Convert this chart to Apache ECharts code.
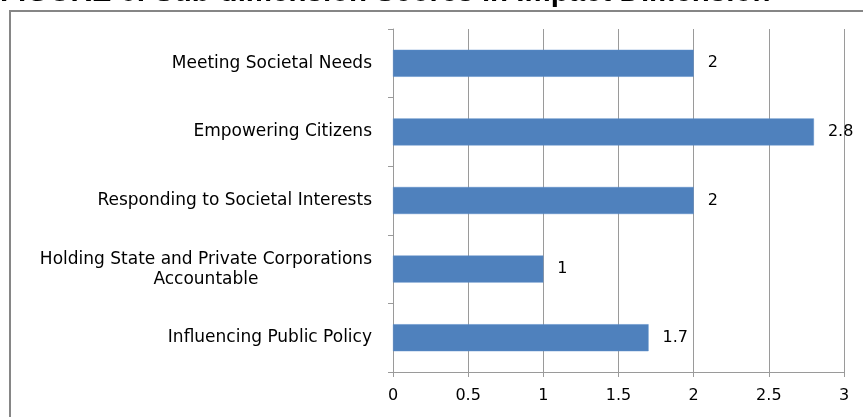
<!DOCTYPE html>
<html lang="en">
<head>
    <meta charset="UTF-8">
    <title>Sub-dimension Scores in Impact Dimension</title>
    <script src="https://cdn.jsdelivr.net/npm/echarts@6/dist/echarts.min.js"></script>
    <style>
        html, body { margin: 0; padding: 0; background: #fff; }
    </style>
</head>
<body>
    <div id="main" style="width: 863px; height: 417px;"></div>
    <script>
        // data
        var categories = [
            'Meeting Societal Needs',
            'Empowering Citizens',
            'Responding to Societal Interests',
            'Holding State and Private Corporations\nAccountable',
            'Influencing Public Policy'
        ];
        var scores = [2, 2.8, 2, 1, 1.7];
        var titleText = 'FIGURE 6: Sub-dimension Scores in Impact Dimension';

        var chart = echarts.init(document.getElementById('main'));

        var labelFont = '"DejaVu Sans", sans-serif';
        var labelSize = 17;

        // measure text so the two-line label can be centred line by line
        var ctx = document.createElement('canvas').getContext('2d');
        ctx.font = labelSize + 'px ' + labelFont;

        var yData = categories.map(function (c) {
            if (c.indexOf('\n') >= 0) {
                var w = Math.max.apply(null, c.split('\n').map(function (s) {
                    return ctx.measureText(s).width;
                }));
                return { value: c, textStyle: { align: 'center', padding: [0, w, 0, 0] } };
            }
            return c;
        });

        var option = {
            animation: false,
            graphic: [
                {
                    type: 'rect',
                    shape: { x: 10, y: 11, width: 870, height: 420 },
                    style: { fill: 'none', stroke: '#868686', lineWidth: 2 },
                    silent: true
                },
                {
                    type: 'text',
                    x: 0,
                    y: 8,
                    style: {
                        text: titleText,
                        font: 'bold 29.5px "Liberation Sans", Arial, sans-serif',
                        fill: '#000',
                        verticalAlign: 'bottom'
                    }
                }
            ],
            grid: { left: 393, right: 19, top: 29, bottom: 45 },
            xAxis: {
                type: 'value',
                min: 0,
                max: 3,
                interval: 0.5,
                axisLine: { show: true, lineStyle: { color: '#9a9a9a', width: 1 } },
                axisTick: { show: true, length: 5, lineStyle: { color: '#9a9a9a' } },
                splitLine: { show: true, lineStyle: { color: '#9a9a9a', width: 1 } },
                axisLabel: { color: '#000', fontSize: 16, fontFamily: labelFont, margin: 16 }
            },
            yAxis: {
                type: 'category',
                inverse: true,
                data: yData,
                axisLine: { show: true, lineStyle: { color: '#9a9a9a', width: 1 } },
                axisTick: { show: true, length: 5, inside: false, lineStyle: { color: '#9a9a9a' } },
                axisLabel: { color: '#000', fontSize: labelSize, fontFamily: labelFont, margin: 21, lineHeight: 20 }
            },
            series: [{
                type: 'bar',
                data: scores,
                barWidth: 27,
                itemStyle: { color: '#4f81bd', borderColor: '#5b8cc8', borderWidth: 0.5 },
                label: {
                    show: true,
                    position: 'right',
                    distance: 14,
                    color: '#000',
                    fontSize: 16,
                    fontFamily: labelFont
                }
            }]
        };

        chart.setOption(option);
    </script>
</body>
</html>
